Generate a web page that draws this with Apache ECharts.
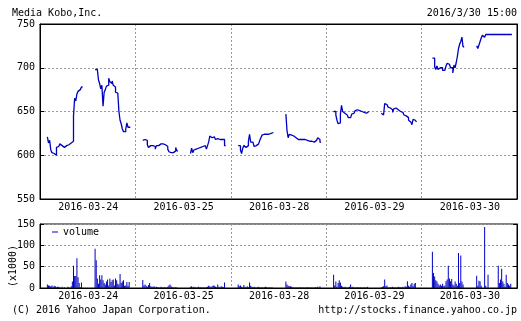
<!DOCTYPE html>
<html>
<head>
<meta charset="utf-8">
<script src="https://cdn.jsdelivr.net/npm/echarts@6/dist/echarts.min.js"></script>
<style>
html, body { margin: 0; padding: 0; background: #fff; }
#main { width: 521px; height: 321px; }
</style>
</head>
<body>
<div id="main"></div>
<script>
// trading days shown on the chart
const days = ['2016-03-24', '2016-03-25', '2016-03-28', '2016-03-29', '2016-03-30'];

// price, 5 minute steps, morning 9:00-11:30 and afternoon 12:30-15:00
const p24am = [621,614,617,606,603,602,601,600,609,610,610,613,611,609,609,611,611,612,612,612,614,614,616,645,665,662,670,673,675,677,678];
const p24pm = [698,698,697,686,682,676,680,656,672,675,679,680,688,684,682,685,680,678,672,671,670,650,640,636,630,627,627,630,637,632,632];
const p25am = [617,618,618,617,612,609,611,611,611,611,610,607,611,611,612,613,614,613,613,612,610,610,607,604,603,603,603,604,605,609,605];
const p25pm = [602,608,603,606,607,607,608,608,609,610,610,610,611,610,607,611,615,622,620,619,621,619,618,619,618,618,618,618,618,618,611];
const p28am = [611,611,606,602,608,611,609,607,611,616,624,615,615,616,610,611,611,613,614,617,620,623,624,626,624,624,624,625,625,626,626];
const p28pm = [647,628,620,624,623,623,622,621,620,619,618,617,618,618,618,618,618,618,617,617,616,616,616,615,615,615,617,618,620,618,615];
const p29am = [650,650,646,640,636,637,647,657,650,648,647,646,644,643,643,644,647,648,650,651,652,651,651,650,650,650,649,648,648,649,650];
const p29pm = [648,646,647,659,658,656,655,654,653,652,649,653,654,653,652,651,650,650,649,647,646,645,644,643,640,638,639,635,641,640,638];
const p30am = [null,null,null,711,711,701,698,702,698,700,698,700,697,697,698,702,705,704,702,700,700,694,703,700,706,713,722,727,730,735,724];
const p30pm = [725,722,726,730,734,737,735,737,738,738,738,738,738,738,738,738,738,738,738,738,738,738,738,738,738,738,738,738,738,738,738];

// volume (x1000)
const v24am = [8,6,5,4,6,3,5,4,2,3,3,2,0,3,0,2,0,0,3,2,0,4,15,52,28,28,70,25,12,2,13];
const v24pm = [92,65,22,10,30,20,30,18,12,8,15,20,6,22,14,18,20,6,22,18,10,8,33,12,15,18,5,6,14,5,14];
const v25am = [19,6,8,5,3,7,12,4,3,3,4,2,3,2,2,1,3,2,1,2,1,1,3,6,8,4,2,1,1,2,1];
const v25pm = [3,4,2,3,2,1,2,3,1,2,1,2,1,1,2,3,5,4,2,4,6,5,3,2,8,3,2,4,3,2,13];
const v28am = [8,4,6,3,2,7,3,2,4,2,13,5,3,2,3,2,1,2,3,1,2,2,1,2,3,2,1,1,2,1,1];
const v28pm = [15,8,5,4,4,3,2,2,1,2,1,1,2,1,1,2,1,1,1,2,1,1,2,1,1,1,2,1,3,1,4];
const v29am = [31,6,15,3,12,18,13,5,3,2,3,2,1,2,3,8,2,3,1,2,1,2,1,1,2,1,1,2,1,1,3];
const v29pm = [2,3,4,20,4,6,2,1,2,1,3,1,2,2,1,3,2,2,1,3,2,4,3,16,5,3,8,12,4,10,12];
const v30am = [null,null,null,85,35,27,18,15,10,6,8,5,10,4,6,16,20,52,22,16,21,8,6,15,10,5,82,12,76,15,8];
const v30pm = [29,5,17,15,5,0,0,143,5,0,31,0,0,0,0,0,0,0,0,52,12,20,45,15,10,3,31,12,8,5,10];

const priceTicks = [550, 600, 650, 700, 750];
const volTicks = [0, 50, 100, 150];

const FONT = 'DejaVu Sans Mono';
const BLUE = '#0000c0';
const SLOTS = 84;      // 8:30 - 15:30 in 5 minute slots
const AM_START = 6;    // 9:00
const PM_START = 48;   // 12:30

// category per 5 minute slot
const cats = [];
days.forEach(d => {
	for (let s = 0; s < SLOTS; s++) {
		const m = 8 * 60 + 30 + s * 5;
		const hh = String(Math.floor(m / 60)).padStart(2, '0');
		const mm = String(m % 60).padStart(2, '0');
		cats.push(d + ' ' + hh + ':' + mm);
	}
});

function daySlots(am, pm) {
	const out = new Array(SLOTS).fill(null);
	am.forEach((v, i) => { out[AM_START + i] = v; });
	pm.forEach((v, i) => { out[PM_START + i] = v; });
	return out;
}

const priceData = [].concat(
	daySlots(p24am, p24pm), daySlots(p25am, p25pm), daySlots(p28am, p28pm),
	daySlots(p29am, p29pm), daySlots(p30am, p30pm));
const volData = [].concat(
	daySlots(v24am, v24pm), daySlots(v25am, v25pm), daySlots(v28am, v28pm),
	daySlots(v29am, v29pm), daySlots(v30am, v30pm));

const isMid = (i) => i % SLOTS === SLOTS / 2;
const isDay = (i) => i % SLOTS === 0;
const dash = { color: '#999', type: [2, 2], width: 1 };
const txt = { fontFamily: FONT, fontSize: 10, color: '#000' };

function xAxes(grid) {
	return [{
		gridIndex: grid, type: 'category', data: cats, boundaryGap: true,
		axisLine: { lineStyle: { color: '#000' } },
		axisTick: { inside: true, length: 4, alignWithLabel: true, interval: isMid, lineStyle: { color: '#000' } },
		axisLabel: Object.assign({ interval: isMid, margin: 3, formatter: v => v.slice(0, 10) }, txt),
		splitLine: { show: true, interval: isDay, lineStyle: dash }
	}, {
		gridIndex: grid, type: 'category', data: cats, boundaryGap: true, position: 'top',
		axisLine: { lineStyle: { color: '#000' } },
		axisTick: { inside: true, length: 4, alignWithLabel: true, interval: isMid, lineStyle: { color: '#000' } },
		axisLabel: { show: false },
		splitLine: { show: false }
	}];
}

function yAxes(grid, ticks, extra) {
	const min = ticks[0], max = ticks[ticks.length - 1], step = ticks[1] - ticks[0];
	return [Object.assign({
		gridIndex: grid, type: 'value', min: min, max: max, interval: step,
		axisLine: { show: true, lineStyle: { color: '#000' } },
		axisTick: { show: true, inside: true, length: 4, lineStyle: { color: '#000' } },
		axisLabel: Object.assign({ margin: 5 }, txt),
		splitLine: { show: true, lineStyle: dash }
	}, extra || {}), {
		gridIndex: grid, type: 'value', min: min, max: max, interval: step, position: 'right',
		axisLine: { show: true, lineStyle: { color: '#000' } },
		axisTick: { show: true, inside: true, length: 4, lineStyle: { color: '#000' } },
		axisLabel: { show: false },
		splitLine: { show: false }
	}];
}

const chart = echarts.init(document.getElementById('main'));
chart.setOption({
	animation: false,
	backgroundColor: '#fff',
	title: [
		{ text: 'Media Kobo,Inc.', left: 12, top: 8, padding: 0, textStyle: Object.assign({ fontWeight: 'normal' }, txt) },
		{ text: '2016/3/30 15:00', right: 4, top: 8, padding: 0, textStyle: Object.assign({ fontWeight: 'normal' }, txt) },
		{ text: '(C) 2016 Yahoo Japan Corporation.', left: 12, top: 305, padding: 0, textStyle: Object.assign({ fontWeight: 'normal' }, txt) },
		{ text: 'http://stocks.finance.yahoo.co.jp', right: 4, top: 305, padding: 0, textStyle: Object.assign({ fontWeight: 'normal' }, txt) }
	],
	legend: {
		data: ['volume'], left: 52, top: 227, padding: 0,
		icon: 'rect', itemWidth: 6, itemHeight: 1, itemGap: 4,
		textStyle: txt
	},
	grid: [
		{ left: 40, right: 4, top: 24, height: 175, show: true, borderColor: '#000', borderWidth: 1, outerBoundsMode: 'none', containLabel: false },
		{ left: 40, right: 4, top: 224, height: 64, show: true, borderColor: '#000', borderWidth: 1, outerBoundsMode: 'none', containLabel: false }
	],
	xAxis: xAxes(0).concat(xAxes(1)),
	yAxis: yAxes(0, priceTicks).concat(yAxes(1, volTicks, {
		name: '(x1000)', nameLocation: 'middle', nameRotate: 90, nameGap: 22,
		nameMoveOverlap: false,
		nameTextStyle: Object.assign({ padding: [0, 20, 0, 0] }, txt)
	})),
	series: [{
		name: 'price', type: 'line', xAxisIndex: 0, yAxisIndex: 0,
		data: priceData, step: 'end', showSymbol: false, symbol: 'none',
		connectNulls: false, lineStyle: { color: BLUE, width: 1.3 }, itemStyle: { color: BLUE }
	}, {
		name: 'volume', type: 'bar', xAxisIndex: 2, yAxisIndex: 2,
		data: volData, barWidth: 1, itemStyle: { color: BLUE }
	}]
});
</script>
</body>
</html>
